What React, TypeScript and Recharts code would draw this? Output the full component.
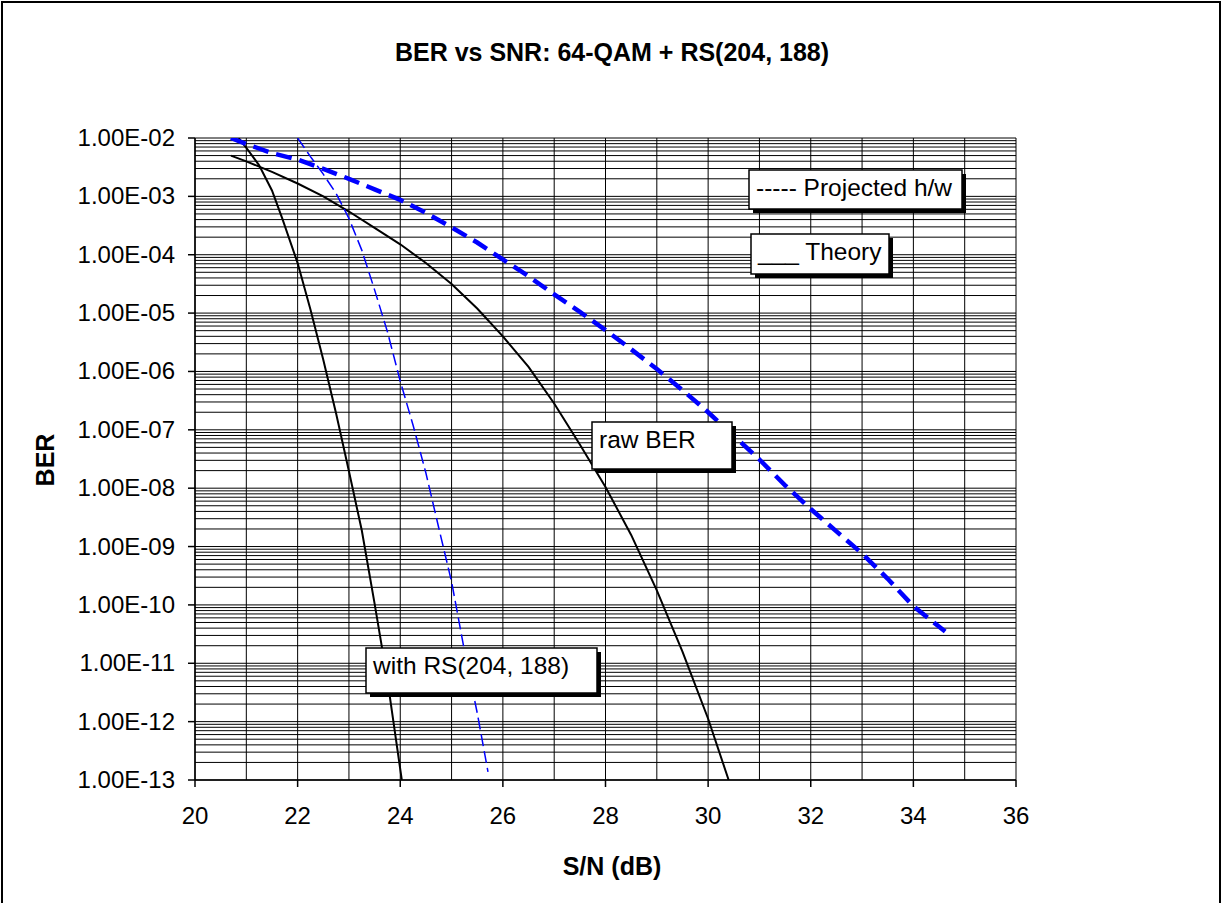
import React from "react";
import { LineChart, Line, XAxis, YAxis, CartesianGrid } from "recharts";

// ---- Data ----
const snrTheoryRaw = [20.7, 21, 21.5, 22, 22.5, 23, 23.5, 24, 24.5, 25, 25.5, 26, 26.5, 27, 27.5, 28, 28.5, 29, 29.5, 30, 30.4];
const berTheoryRaw = [5.0e-3, 3.98e-3, 2.63e-3, 1.66e-3, 1.0e-3, 5.5e-4, 2.88e-4, 1.51e-4, 7.2e-5, 3.16e-5, 1.2e-5, 3.98e-6, 1.2e-6, 2.82e-7, 5.6e-8, 1.05e-8, 1.58e-9, 1.78e-10, 1.58e-11, 1.12e-12, 1.0e-13];

const snrTheoryRS = [20.85, 21, 21.25, 21.5, 21.7, 22, 22.25, 22.5, 22.75, 23, 23.25, 23.5, 23.75, 24.03];
const berTheoryRS = [1.0e-2, 6.8e-3, 3.4e-3, 1.26e-3, 4.2e-4, 7.2e-5, 1.15e-5, 1.58e-6, 1.9e-7, 1.95e-8, 1.9e-9, 1.05e-10, 5.2e-12, 1.0e-13];

const snrProjRaw = [20.7, 21, 21.5, 22, 22.5, 23, 23.5, 24, 24.5, 25, 25.5, 26, 26.5, 27, 27.5, 28, 28.5, 29, 29.5, 30, 30.5, 31, 31.5, 32, 32.5, 33, 33.5, 34, 34.62];
const berProjRaw = [1.0e-2, 7.9e-3, 5.5e-3, 4.27e-3, 2.95e-3, 2.0e-3, 1.32e-3, 8.7e-4, 5.2e-4, 2.95e-4, 1.62e-4, 8.3e-5, 4.27e-5, 2.09e-5, 1.05e-5, 5.1e-6, 2.4e-6, 1.1e-6, 4.8e-7, 2.0e-7, 7.9e-8, 3.1e-8, 1.12e-8, 4.4e-9, 1.82e-9, 7.6e-10, 2.8e-10, 9.5e-11, 3.5e-11];

const snrProjRS = [22.0, 22.25, 22.5, 22.75, 23.0, 23.25, 23.5, 23.75, 24.0, 24.25, 24.5, 24.75, 25.0, 25.25, 25.5, 25.71];
const berProjRS = [1.0e-2, 4.8e-3, 2.4e-3, 1.12e-3, 4.2e-4, 1.2e-4, 2.5e-5, 4.8e-6, 6.8e-7, 1.2e-7, 1.82e-8, 2.1e-9, 2.5e-10, 1.66e-11, 1.41e-12, 1.38e-13];

const xTicks = [20, 22, 24, 26, 28, 30, 32, 34, 36];
const yTicks = [1e-2, 1e-3, 1e-4, 1e-5, 1e-6, 1e-7, 1e-8, 1e-9, 1e-10, 1e-11, 1e-12, 1e-13];
const yTickLabels = ["1.00E-02", "1.00E-03", "1.00E-04", "1.00E-05", "1.00E-06", "1.00E-07", "1.00E-08", "1.00E-09", "1.00E-10", "1.00E-11", "1.00E-12", "1.00E-13"];
const minorMultipliers = [2, 3, 4, 5, 6, 7, 8, 9];
const gridX = [20, 21, 22, 23, 24, 25, 26, 27, 28, 29, 30, 31, 32, 33, 34, 35, 36];

const pair = (xs: number[], ys: number[]) => xs.map((snr, i) => ({ snr, ber: ys[i] }));
const theoryRaw = pair(snrTheoryRaw, berTheoryRaw);
const theoryRS = pair(snrTheoryRS, berTheoryRS);
const projRaw = pair(snrProjRaw, berProjRaw);
const projRS = pair(snrProjRS, berProjRS);

const gridY: number[] = [];
yTicks.forEach((d) => {
  gridY.push(d);
  if (d < 1e-2) minorMultipliers.forEach((m) => gridY.push(d * m));
});

const FONT = "'Liberation Sans', Arial, sans-serif";

const YTick = (props: any) => {
  const { x, y, payload } = props;
  const idx = yTicks.findIndex((t) => Math.abs(Math.log10(t) - Math.log10(payload.value)) < 1e-6);
  return (
    <text x={x} y={y} dy={8} textAnchor="end" fontFamily={FONT} fontSize={24} fill="#000">
      {idx >= 0 ? yTickLabels[idx] : ""}
    </text>
  );
};

const XTick = (props: any) => {
  const { x, y, payload } = props;
  return (
    <text x={x} y={y} dy={17} textAnchor="middle" fontFamily={FONT} fontSize={24} fill="#000">
      {payload.value}
    </text>
  );
};

const Box = ({ x, y, w, h, text }: { x: number; y: number; w: number; h: number; text: string }) => (
  <g>
    <rect x={x + 4} y={y + 4} width={w} height={h} fill="#000" />
    <rect x={x} y={y} width={w} height={h} fill="#fff" stroke="#000" strokeWidth={1.5} />
    <text x={x + 7} y={y + 26} fontFamily={FONT} fontSize={24.5} fill="#000">
      {text}
    </text>
  </g>
);

export default function App() {
  return (
    <div style={{ position: "absolute", left: 0, top: 0, width: 1223, height: 903, background: "#fff", overflow: "hidden" }}>
      <LineChart width={1223} height={903} margin={{ top: 138, right: 207, bottom: 63, left: 0 }}>
        <CartesianGrid
          horizontalValues={gridY}
          verticalValues={gridX}
          stroke="#000"
          strokeWidth={1}
          strokeDasharray=""
        />
        <XAxis
          dataKey="snr"
          type="number"
          domain={[20, 36]}
          ticks={xTicks}
          tickSize={7}
          tickMargin={20}
          height={60}
          stroke="#000"
          strokeWidth={1.5}
          tick={<XTick />}
          allowDataOverflow
        />
        <YAxis
          dataKey="ber"
          type="number"
          scale="log"
          domain={[1e-13, 1e-2]}
          ticks={yTicks}
          tickSize={7}
          tickMargin={13}
          width={195}
          stroke="#000"
          strokeWidth={1.5}
          tick={<YTick />}
          allowDataOverflow
          interval={0}
        />
        <Line data={theoryRaw} dataKey="ber" type="linear" stroke="#000" strokeWidth={2} dot={false} activeDot={false} isAnimationActive={false} />
        <Line data={theoryRS} dataKey="ber" type="linear" stroke="#000" strokeWidth={2} dot={false} activeDot={false} isAnimationActive={false} />
        <Line data={projRaw} dataKey="ber" type="linear" stroke="#0000FF" strokeWidth={4.5} strokeDasharray="16 8" dot={false} activeDot={false} isAnimationActive={false} />
        <Line data={projRS} dataKey="ber" type="linear" stroke="#0000FF" strokeWidth={1.5} strokeDasharray="12 5" dot={false} activeDot={false} isAnimationActive={false} />
      </LineChart>
      <svg width={1223} height={903} style={{ position: "absolute", left: 0, top: 0, pointerEvents: "none" }}>
        <rect x={2} y={2} width={1218} height={950} fill="none" stroke="#000" strokeWidth={2} />
        <text x={612} y={61} textAnchor="middle" fontFamily={FONT} fontSize={25} fontWeight="bold" fill="#000">
          BER vs SNR: 64-QAM + RS(204, 188)
        </text>
        <text x={612} y={875} textAnchor="middle" fontFamily={FONT} fontSize={25} fontWeight="bold" fill="#000">
          S/N (dB)
        </text>
        <text x={54} y={460} textAnchor="middle" fontFamily={FONT} fontSize={25} fontWeight="bold" fill="#000" transform="rotate(-90 54 460)">
          BER
        </text>
        <Box x={749} y={170} w={213} h={39} text="----- Projected h/w" />
        <Box x={751} y={234} w={138} h={40} text="___ Theory" />
        <Box x={592} y={422} w={140} h={47} text="raw BER" />
        <Box x={366} y={648} w={231} h={45} text="with RS(204, 188)" />
      </svg>
    </div>
  );
}
